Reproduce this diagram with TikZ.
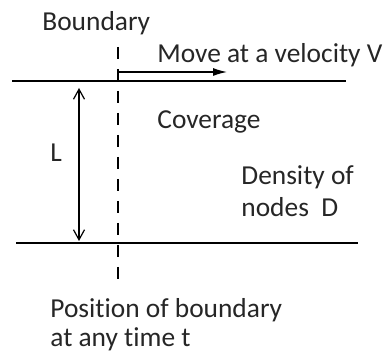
\documentclass[tikz,border=0pt]{standalone}
\usepackage{fontspec}
\setmainfont[RawFeature={-liga;-clig;-dlig}]{Carlito}
\usetikzlibrary{arrows.meta, positioning}

\begin{document}
\begin{tikzpicture}[
  x=0.5pt, y=-0.5pt,
  lbl/.style={anchor=base west, inner sep=0pt, font=\fontsize{13.7}{15.5}\selectfont, text=black!85},
  rail/.style={line width=0.6pt},
  bdry/.style={line width=0.6pt, dash pattern=on 6pt off 5pt}
]
  \useasboundingbox (0,0) rectangle (386,351);

  % the two edges of the strip
  \coordinate (tl) at (12, 81);
  \coordinate (tr) at (346, 81);
  \coordinate (bl) at (16, 243);
  \coordinate (br) at (358, 243);
  \draw[rail] (tl) -- (tr);
  \draw[rail] (bl) -- (br);

  % boundary line and its motion
  \coordinate (btop) at (118, 47);
  \coordinate (bbot) at (118, 283);
  \coordinate (mend) at (227, 72);
  \draw[bdry] (btop) -- (bbot);
  \draw[rail, -{Latex[length=7pt, width=4pt]}] (118, 81) |- (mend);

  % width of the strip
  \coordinate (ltop) at (79, 88);
  \coordinate (lbot) at (79, 241);
  \draw[rail, {Straight Barb[length=5pt, width=5.5pt]}-{Straight Barb[length=5pt, width=5.5pt]}] (ltop) -- (lbot);

  \node[lbl] (bname) at (42, 31) {Boundary};
  \node[lbl] (move) at (157, 63) {Move at a velocity V};
  \node[lbl] (cover) at (157, 129) {Coverage};
  \node[lbl] (len) at (50, 162) {L};
  \node[lbl] (dens) at (241, 185) {Density of};
  \node[lbl] (dnodes) at (241, 217) {nodes\ \ D};
  \node[lbl] (pos) at (50, 318) {Position of boundary};
  \node[lbl] (tany) at (50, 347) {at any time t};
\end{tikzpicture}
\end{document}
